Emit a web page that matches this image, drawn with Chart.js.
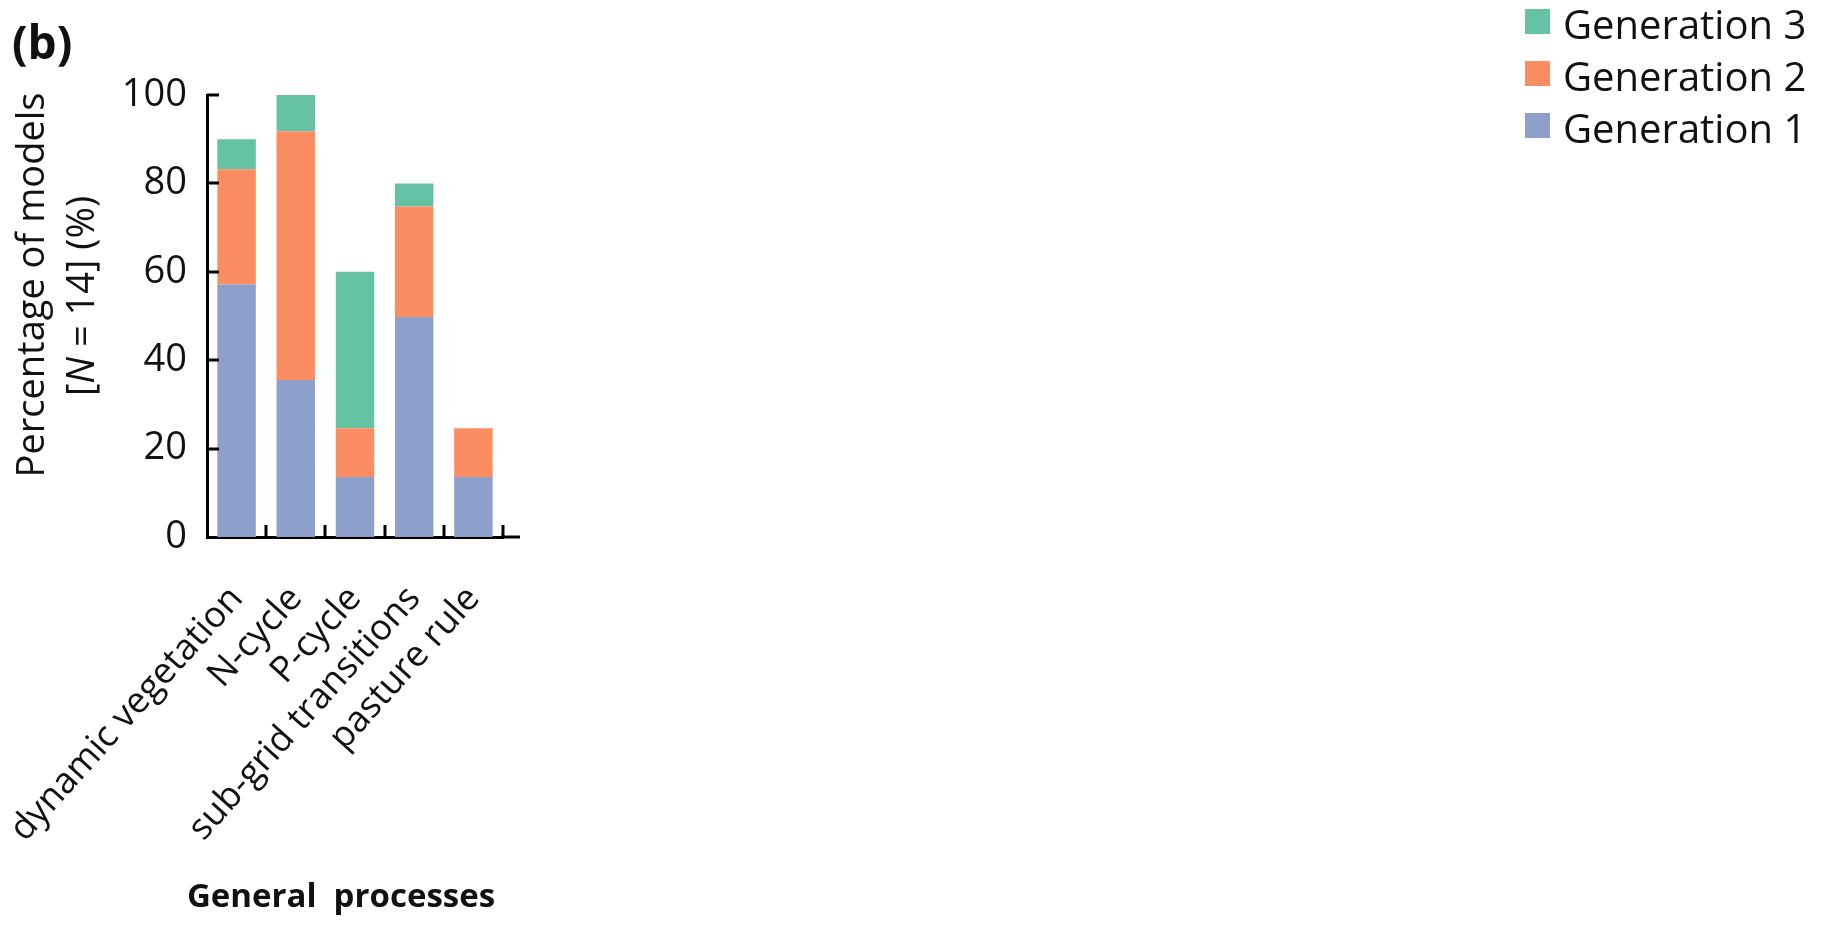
<!DOCTYPE html>
<html>
<head>
<meta charset="utf-8">
<script src="https://cdn.jsdelivr.net/npm/chart.js@4/dist/chart.umd.min.js"></script>
<style>
  html, body { margin: 0; padding: 0; background: #ffffff; overflow: hidden; }
  #wrap { position: relative; width: 1831px; height: 926px; }
</style>
</head>
<body>
<div id="wrap"><canvas id="c" width="1831" height="926"></canvas></div>
<script>
// Share of models (%) implementing each general process, split by generation
const categories = ['dynamic vegetation', 'N-cycle', 'P-cycle', 'sub-grid transitions', 'pasture rule'];
const generation1 = [57.1, 35.5, 13.6, 49.8, 13.6];
const generation2 = [26.1, 56.3, 11.0, 25.0, 11.0];
const generation3 = [6.8, 8.2, 35.4, 5.2, null];
const seriesNames = ['Generation 1', 'Generation 2', 'Generation 3'];
const seriesColors = ['#8da0cb', '#fc8d62', '#66c2a5'];
const yTickValues = [0, 20, 40, 60, 80, 100];
const panelLabel = '(b)';
const xTitle = 'General  processes';

const FONT = "'Open Sans', 'DejaVu Sans', sans-serif";
const INK = '#111111';
const TEXT_SIZE = 38;
const CATEGORY_SIZE = 36;

// Inward tick marks on both axes, the short axis-line extension, titles and legend
const decorations = {
  id: 'decorations',
  afterDraw(chart) {
    const { ctx, chartArea: a, scales: { x, y } } = chart;
    ctx.save();
    ctx.strokeStyle = '#000';
    ctx.lineWidth = 3;
    ctx.lineCap = 'butt';
    // y ticks pointing into the plot
    yTickValues.forEach(v => {
      if (v === 0) return;
      const py = Math.round(y.getPixelForValue(v));
      ctx.beginPath();
      ctx.moveTo(a.left, py);
      ctx.lineTo(a.left + 12, py);
      ctx.stroke();
    });
    // x ticks on category boundaries, pointing up
    for (let i = 1; i <= categories.length; i++) {
      const px = Math.round(x.getPixelForValue(i - 0.5));
      ctx.beginPath();
      ctx.moveTo(px, a.bottom);
      ctx.lineTo(px, a.bottom - 12);
      ctx.stroke();
    }
    // axis line runs a little past the last category
    ctx.beginPath();
    ctx.moveTo(a.right - 2, Math.round(a.bottom));
    ctx.lineTo(a.right + 17, Math.round(a.bottom));
    ctx.stroke();

    ctx.fillStyle = INK;
    // panel letter
    ctx.font = 'bold 46px ' + FONT;
    ctx.textAlign = 'left';
    ctx.textBaseline = 'alphabetic';
    ctx.fillText(panelLabel, 12, 59);

    // y-axis title, two rotated lines
    ctx.font = TEXT_SIZE + 'px ' + FONT;
    ctx.save();
    ctx.translate(44, 285);
    ctx.rotate(-Math.PI / 2);
    ctx.textAlign = 'center';
    ctx.fillText('Percentage of models', 0, 0);
    ctx.restore();

    const parts = [
      { t: '[', f: TEXT_SIZE + 'px ' + FONT },
      { t: 'N', f: 'italic ' + TEXT_SIZE + 'px ' + FONT },
      { t: ' = 14] (%)', f: TEXT_SIZE + 'px ' + FONT }
    ];
    let total = 0;
    parts.forEach(p => { ctx.font = p.f; p.w = ctx.measureText(p.t).width; total += p.w; });
    ctx.save();
    ctx.translate(94, 296);
    ctx.rotate(-Math.PI / 2);
    ctx.textAlign = 'left';
    let cx = -total / 2;
    parts.forEach(p => { ctx.font = p.f; ctx.fillText(p.t, cx, 0); cx += p.w; });
    ctx.restore();

    // x-axis title
    ctx.font = 'bold 33px ' + FONT;
    ctx.textAlign = 'center';
    ctx.fillText(xTitle, 341, 907);

    // legend, last series on top
    ctx.font = '40px ' + FONT;
    ctx.textAlign = 'left';
    ctx.textBaseline = 'alphabetic';
    const ds = chart.data.datasets;
    for (let k = ds.length - 1, row = 0; k >= 0; k--, row++) {
      const top = 9 + row * 52;
      ctx.fillStyle = ds[k].backgroundColor;
      ctx.fillRect(1525, top, 25, 25);
      ctx.fillStyle = INK;
      ctx.fillText(ds[k].label, 1563, top + 30);
    }
    ctx.restore();
  }
};

new Chart(document.getElementById('c'), {
  type: 'bar',
  data: {
    labels: categories,
    datasets: [generation1, generation2, generation3].map((d, i) => ({
      label: seriesNames[i],
      data: d,
      backgroundColor: seriesColors[i],
      borderWidth: 0,
      barPercentage: 1,
      categoryPercentage: 0.65
    }))
  },
  options: {
    responsive: false,
    animation: false,
    devicePixelRatio: 1,
    layout: { padding: { left: 0, top: 95, right: 1328, bottom: 0 } },
    plugins: { legend: { display: false }, tooltip: { enabled: false } },
    scales: {
      x: {
        stacked: true,
        offset: true,
        grid: { display: false, drawTicks: false },
        border: { display: true, color: '#000', width: 3 },
        ticks: {
          font: { family: FONT, size: CATEGORY_SIZE },
          color: INK,
          minRotation: 48,
          maxRotation: 48,
          autoSkip: false,
          padding: 41
        },
        afterFit(s) {
          s.height = 389;
          s.paddingLeft = 0;
          s.paddingRight = 0;
        }
      },
      y: {
        stacked: true,
        min: 0,
        max: 100,
        grid: { display: false, drawTicks: false },
        border: { display: true, color: '#000', width: 3 },
        ticks: {
          font: { family: FONT, size: TEXT_SIZE },
          color: INK,
          padding: 20
        },
        afterBuildTicks(s) { s.ticks = yTickValues.map(v => ({ value: v })); },
        afterFit(s) {
          s.width = 207;
          s.paddingTop = 0;
          s.paddingBottom = 0;
        }
      }
    }
  },
  plugins: [decorations]
});
</script>
</body>
</html>
